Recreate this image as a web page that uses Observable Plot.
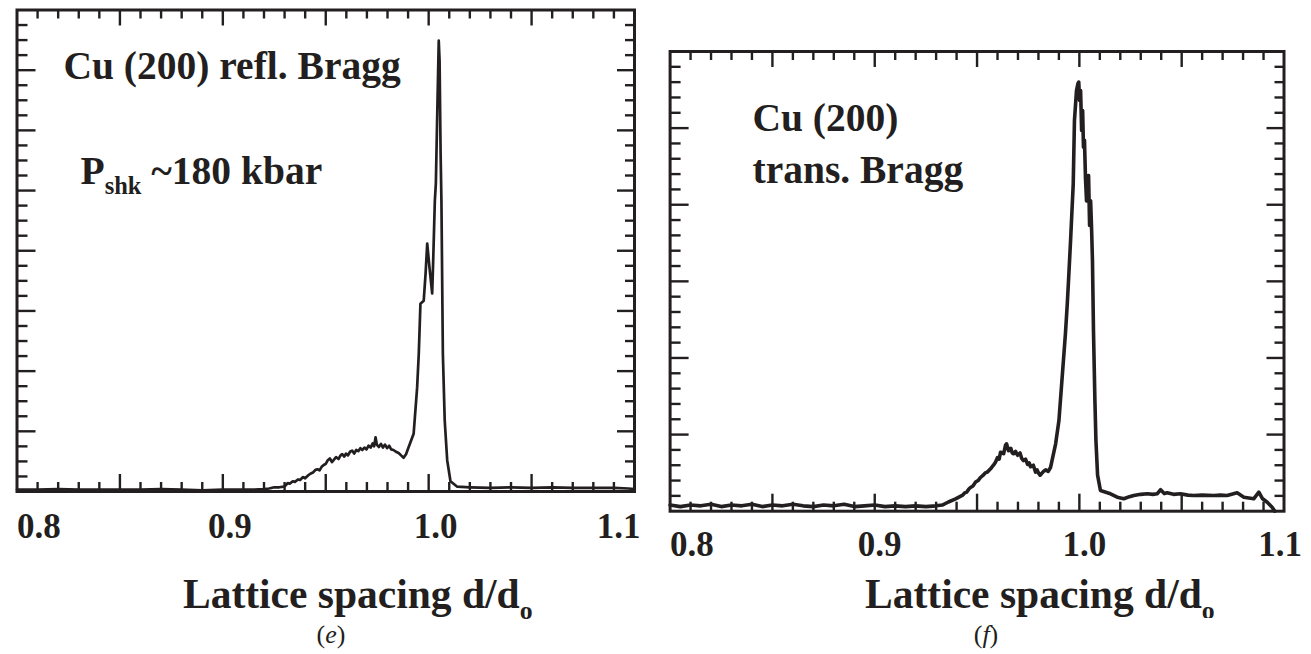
<!DOCTYPE html>
<html>
<head>
<meta charset="utf-8">
<script src="https://cdn.jsdelivr.net/npm/d3@7"></script>
<script src="https://cdn.jsdelivr.net/npm/@observablehq/plot@0.6"></script>
<style>
  html, body { margin: 0; padding: 0; background: #fff; }
  #figure { position: relative; width: 1311px; height: 654px; overflow: hidden;
            font-family: "Liberation Serif", "Times New Roman", serif; color: #231f20; }
  .panel { position: absolute; top: 0; }
  .caption { position: absolute; top: 620px; font-size: 26px; line-height: 30px; transform: translateX(-50%); }
</style>
</head>
<body>
<div id="figure">
  <div class="panel" id="panel-e" style="left:0px"></div>
  <div class="panel" id="panel-f" style="left:655px"></div>
  <div class="caption" style="left:331px">(<i>e</i>)</div>
  <div class="caption" style="left:986px">(<i>f</i>)</div>
</div>
<script>
// Lattice spacing d/d0 and diffracted intensity (arbitrary units)

// (e) Cu (200), reflection Bragg geometry, shocked to ~180 kbar
const reflSpacing = [
  0.800, 0.810, 0.820, 0.830, 0.840, 0.850, 0.860, 0.870, 0.880, 0.890,
  0.900, 0.905, 0.910, 0.915, 0.920, 0.9225, 0.925, 0.9275, 0.9295, 0.9305,
  0.9315, 0.9325, 0.934, 0.935, 0.9365, 0.9375, 0.939, 0.940, 0.9415, 0.9428,
  0.944, 0.945, 0.946, 0.947, 0.948, 0.949, 0.950, 0.951, 0.952, 0.953,
  0.954, 0.955, 0.9562, 0.9572, 0.958, 0.959, 0.9598, 0.9608, 0.9618, 0.9628,
  0.9638, 0.9648, 0.9658, 0.9668, 0.9678, 0.9688, 0.9698, 0.9708, 0.9718, 0.9728,
  0.9735, 0.9742, 0.9748, 0.9758, 0.9768, 0.9778, 0.9788, 0.9798, 0.9808, 0.9818,
  0.9829, 0.9841, 0.9854, 0.9866, 0.9878, 0.9890, 0.9902, 0.9927, 0.9944, 0.9952,
  0.9960, 0.9976, 0.9985, 0.9993, 1.0004, 1.0017, 1.0022, 1.0030, 1.0035, 1.0043,
  1.0049, 1.0053, 1.0058, 1.0062, 1.0069, 1.0078, 1.0090, 1.0106, 1.0139, 1.020,
  1.030, 1.040, 1.050, 1.060, 1.070, 1.080, 1.090, 1.097, 1.100
];
const reflIntensity = [
  0.03, 0.03, 0.04, 0.03, 0.03, 0.03, 0.03, 0.04, 0.03, 0.02,
  0.03, 0.03, 0.03, 0.03, 0.04, 0.05, 0.07, 0.07, 0.08, 0.10,
  0.14, 0.13, 0.17, 0.16, 0.20, 0.19, 0.24, 0.22, 0.27, 0.30,
  0.32, 0.36, 0.37, 0.35, 0.41, 0.44, 0.46, 0.52, 0.55, 0.49,
  0.53, 0.57, 0.54, 0.60, 0.62, 0.58, 0.63, 0.60, 0.66, 0.68,
  0.63, 0.69, 0.67, 0.72, 0.69, 0.73, 0.70, 0.76, 0.73, 0.80,
  0.75, 0.90, 0.78, 0.74, 0.79, 0.73, 0.78, 0.72, 0.76, 0.70,
  0.69, 0.66, 0.64, 0.60, 0.56, 0.62, 0.73, 0.96, 1.73, 2.29,
  3.12, 3.17, 3.62, 4.12, 3.72, 3.29, 3.84, 4.83, 5.12, 6.50,
  7.49, 7.16, 5.62, 4.83, 2.29, 1.18, 0.52, 0.17, 0.08, 0.07,
  0.06, 0.07, 0.06, 0.07, 0.06, 0.06, 0.06, 0.05, 0.04
];

// (f) Cu (200), transmission Bragg geometry
const transSpacing = [
  0.800, 0.805, 0.810, 0.815, 0.820, 0.825, 0.830, 0.835, 0.840, 0.845,
  0.850, 0.855, 0.860, 0.865, 0.870, 0.875, 0.880, 0.885, 0.890, 0.895,
  0.900, 0.905, 0.910, 0.915, 0.920, 0.925, 0.930, 0.933, 0.936, 0.9395,
  0.943, 0.944, 0.945, 0.946, 0.9468, 0.948, 0.9493, 0.9505, 0.9517, 0.953,
  0.954, 0.955, 0.9565, 0.958, 0.959, 0.960, 0.9608, 0.9615, 0.963, 0.9639,
  0.9644, 0.9654, 0.9665, 0.9672, 0.9678, 0.9688, 0.9698, 0.971, 0.9718, 0.9727,
  0.9737, 0.9747, 0.9755, 0.9762, 0.9775, 0.9786, 0.9793, 0.980, 0.9808, 0.9815,
  0.9825, 0.9835, 0.9848, 0.9859, 0.9884, 0.990, 0.9916, 0.9932, 0.9941, 0.9947,
  0.9957, 0.997, 0.9976, 0.9986, 0.9993, 0.9997, 1.0001, 1.0006, 1.0011, 1.0016,
  1.0020, 1.0025, 1.0030, 1.0035, 1.0040, 1.0045, 1.0050, 1.0055, 1.0060, 1.0064,
  1.0069, 1.0076, 1.0081, 1.0089, 1.0103, 1.0152, 1.0185, 1.0217, 1.0245, 1.0266,
  1.030, 1.0332, 1.036, 1.038, 1.0397, 1.0415, 1.0429, 1.046, 1.0494, 1.053,
  1.0559, 1.060, 1.0657, 1.069, 1.0722, 1.0771, 1.0804, 1.0852, 1.0877, 1.0894,
  1.0918, 1.0942, 1.0955
];
const transIntensity = [
  0.08, 0.06, 0.08, 0.07, 0.09, 0.06, 0.08, 0.07, 0.09, 0.06,
  0.08, 0.07, 0.09, 0.07, 0.06, 0.08, 0.07, 0.09, 0.06, 0.07,
  0.08, 0.06, 0.07, 0.06, 0.07, 0.06, 0.07, 0.08, 0.12, 0.16,
  0.21, 0.24, 0.25, 0.29, 0.31, 0.33, 0.38, 0.40, 0.44, 0.47,
  0.50, 0.51, 0.55, 0.60, 0.64, 0.70, 0.68, 0.77, 0.75, 0.86,
  0.88, 0.79, 0.82, 0.76, 0.75, 0.78, 0.73, 0.76, 0.69, 0.66,
  0.68, 0.61, 0.63, 0.58, 0.60, 0.51, 0.54, 0.50, 0.47, 0.49,
  0.52, 0.54, 0.52, 0.57, 0.88, 1.18, 1.75, 2.32, 2.71, 3.01,
  3.53, 4.27, 5.10, 5.49, 5.58, 5.60, 5.36, 5.49, 4.97, 5.23,
  4.75, 4.84, 4.34, 4.05, 4.31, 4.38, 3.73, 4.05, 3.66, 3.27,
  2.35, 1.44, 0.92, 0.47, 0.27, 0.227, 0.183, 0.162, 0.19, 0.205,
  0.22, 0.227, 0.22, 0.227, 0.28, 0.23, 0.24, 0.22, 0.227, 0.21,
  0.205, 0.21, 0.205, 0.21, 0.205, 0.24, 0.183, 0.162, 0.248, 0.166,
  0.117, 0.052, 0.0
];

// Axis tick values
const xLabels = [0.8, 0.9, 1.0, 1.1];
const xMajor = [0.85, 0.90, 0.95, 1.00, 1.05];
const xMinor = d3.range(81, 110).filter(i => i % 5 !== 0).map(i => i / 100);

const ink = "#231f20";
const serif = "'Liberation Serif', 'Times New Roman', serif";

// Turn "_{...}" markup inside rendered text into subscript tspans
function applySubscripts(svg, shiftEm, sizeEm) {
  d3.select(svg).selectAll("text").each(function () {
    const s = this.textContent;
    if (!s.includes("_{")) return;
    const parts = s.split(/_\{([^}]*)\}/);
    this.textContent = "";
    const t = d3.select(this);
    let lowered = false;
    parts.forEach((p, i) => {
      if (!p) return;
      const span = t.append("tspan").text(p);
      if (i % 2) {
        span.attr("font-size", `${sizeEm}em`).attr("dy", `${shiftEm / sizeEm}em`);
        lowered = true;
      } else if (lowered) {
        span.attr("dy", `${-shiftEm}em`);
        lowered = false;
      }
    });
  });
}

function panel(cfg) {
  const {spacing, intensity, yMax, yStep, width, height, margin, lineWidth,
         labels, title, tickPadding, firstDx, midDx, lastDx} = cfg;
  const W = width - margin.left - margin.right;
  const H = height - margin.top - margin.bottom;
  const yMajor = d3.range(1, yMax);
  const yMinor = d3.range(1, Math.round(yMax / yStep))
    .filter(i => Math.abs(i * yStep - Math.round(i * yStep)) > 1e-6)
    .map(i => i * yStep);
  const data = spacing.map((d, i) => ({d, I: intensity[i]}));
  const tk = {stroke: ink, strokeWidth: 2.4, strokeLinecap: "butt"};
  const fmt = d3.format(".1f");

  const svg = Plot.plot({
    width, height,
    marginLeft: margin.left, marginRight: margin.right,
    marginTop: margin.top, marginBottom: margin.bottom,
    x: {domain: [0.8, 1.1]},
    y: {domain: [0, yMax], axis: null},
    style: {fontFamily: serif, fontWeight: "bold", color: ink, background: "white", overflow: "hidden"},
    marks: [
      // inward ticks on all four sides
      Plot.tickX(xMinor, {x: d => d, insetTop: H - 9, ...tk}),
      Plot.tickX(xMajor, {x: d => d, insetTop: H - 17, ...tk}),
      Plot.tickX(xMinor, {x: d => d, insetBottom: H - 9, ...tk}),
      Plot.tickX(xMajor, {x: d => d, insetBottom: H - 16, ...tk}),
      Plot.tickY(yMinor, {y: d => d, insetRight: W - 11, ...tk}),
      Plot.tickY(yMajor, {y: d => d, insetRight: W - 19, ...tk}),
      Plot.tickY(yMinor, {y: d => d, insetLeft: W - 9, ...tk}),
      Plot.tickY(yMajor, {y: d => d, insetLeft: W - 17, ...tk}),
      Plot.line(data, {x: "d", y: "I", stroke: ink, strokeWidth: lineWidth}),
      Plot.frame({stroke: ink, strokeWidth: 3}),
      Plot.axisX(xLabels.slice(0, 1), {tickSize: 0, tickPadding, tickFormat: fmt, fontSize: 35,
        textAnchor: "start", dx: firstDx, label: null}),
      Plot.axisX(xLabels.slice(1, 3), {tickSize: 0, tickPadding, tickFormat: fmt, fontSize: 35,
        dx: midDx, label: null}),
      Plot.axisX(xLabels.slice(3), {tickSize: 0, tickPadding, tickFormat: fmt, fontSize: 35,
        textAnchor: "end", dx: lastDx, label: null}),
      Plot.text([title.text], {frameAnchor: "bottom-left", textAnchor: "start", lineAnchor: "bottom",
        dx: title.dx, dy: title.dy, fontSize: 41.5, fill: ink}),
      ...labels.map(l => Plot.text([l.text], {frameAnchor: "top-left", textAnchor: "start",
        lineAnchor: "bottom", dx: l.dx, dy: l.dy, fontSize: 39.5, fill: ink}))
    ]
  });
  applySubscripts(svg, 0.27, 0.62);
  return svg;
}

document.getElementById("panel-e").append(panel({
  spacing: reflSpacing, intensity: reflIntensity, yMax: 8, yStep: 0.25,
  width: 655, height: 630,
  margin: {left: 16.5, right: 21, top: 9.5, bottom: 139},
  lineWidth: 2.7, tickPadding: 22, firstDx: 0, midDx: 7, lastDx: 6,
  title: {text: "Lattice spacing d/d_{o}", dx: 166, dy: 116},
  labels: [
    {text: "Cu (200) refl. Bragg", dx: 46.5, dy: 68.5},
    {text: "P_{shk} ~180 kbar", dx: 63.5, dy: 173.5}
  ]
}));

document.getElementById("panel-f").append(panel({
  spacing: transSpacing, intensity: transIntensity, yMax: 6, yStep: 0.2,
  width: 656, height: 618,
  margin: {left: 14.6, right: 27.5, top: 51, bottom: 107.3},
  lineWidth: 3.6, tickPadding: 20, firstDx: 0, midDx: 5, lastDx: 18,
  title: {text: "Lattice spacing d/d_{o}", dx: 195, dy: 96.3},
  labels: [
    {text: "Cu (200)", dx: 82.4, dy: 79},
    {text: "trans. Bragg", dx: 82.4, dy: 131}
  ]
}));
</script>
</body>
</html>
